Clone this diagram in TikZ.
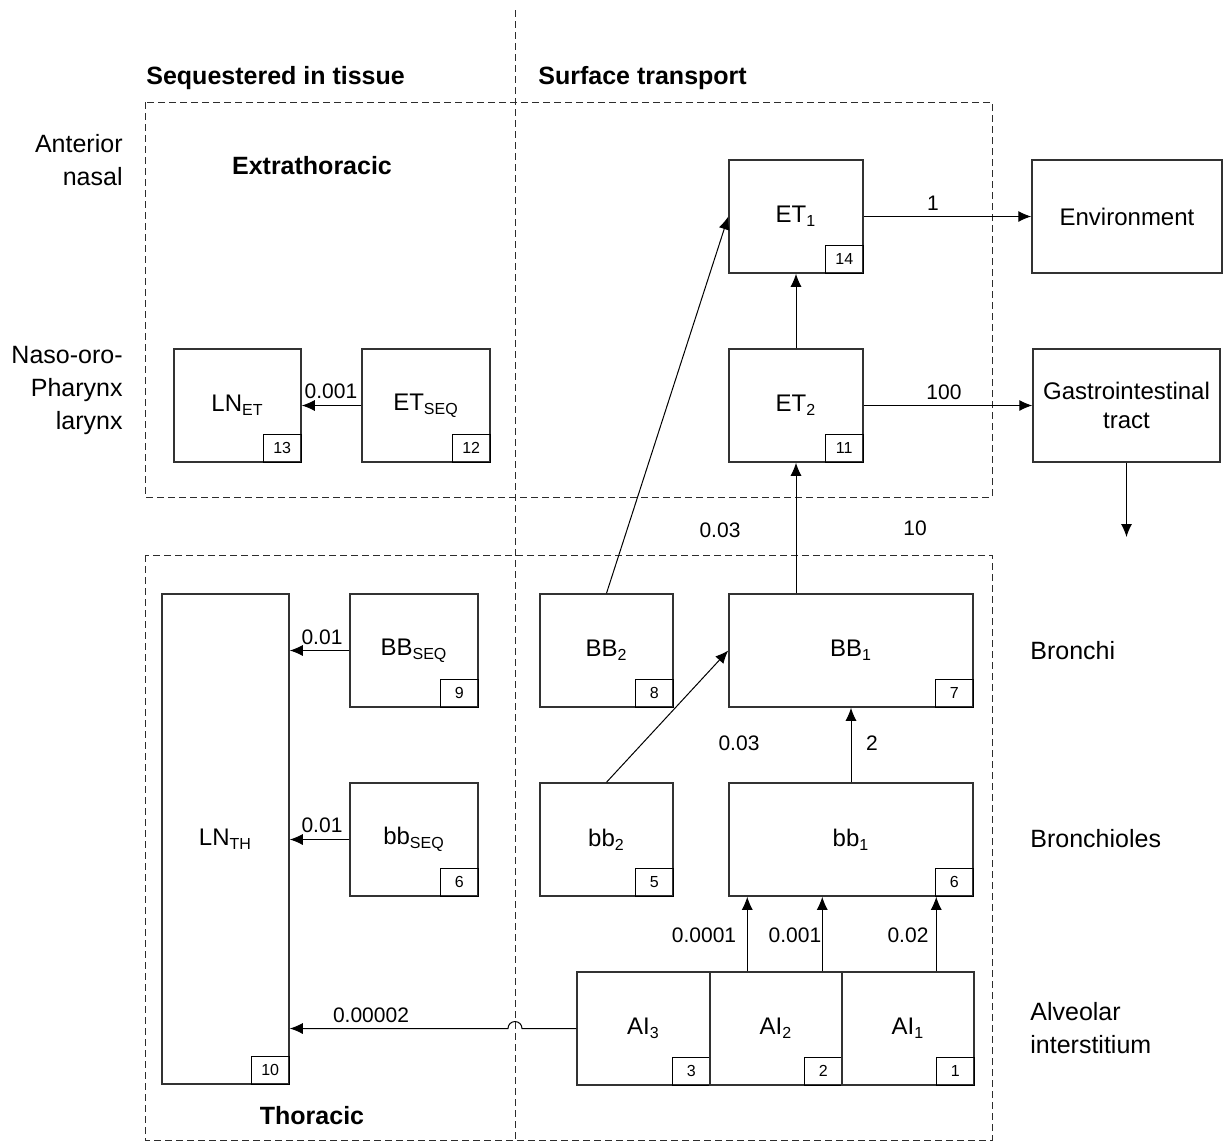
\documentclass[tikz,border=0pt]{standalone}
\usepackage{fontspec}
\setmainfont{Liberation Sans}
\usetikzlibrary{arrows.meta,calc}

\definecolor{boxgray}{RGB}{50,50,50}
\definecolor{dashgray}{RGB}{45,45,45}

\tikzset{
  comp/.style={draw=boxgray, line width=0.75pt, minimum width=67pt, minimum height=56.5pt,
    inner sep=0pt, align=center, font=\fontsize{12}{14.5}\selectfont},
  numbox/.style={draw=black, line width=0.5pt, minimum width=19pt, minimum height=14pt,
    inner sep=0pt, anchor=south east, font=\fontsize{8}{9}\selectfont},
  rate/.style={inner sep=0pt, font=\fontsize{10.5}{12}\selectfont},
  flow/.style={-{Latex[length=6.5pt,width=5.5pt]}, line width=0.5pt},
  region/.style={draw=dashgray, line width=0.5pt, dash pattern=on 3.5pt off 2pt},
  head/.style={inner sep=0pt, font=\bfseries\fontsize{12.5}{15}\selectfont},
  side/.style={inner sep=0pt, font=\fontsize{12.5}{16.5}\selectfont},
}

\begin{document}
\begin{tikzpicture}[x=0.5pt,y=-0.5pt]
\useasboundingbox (0,0) rectangle (1223,1142);

% regions
\draw[region] (145,102) rectangle (992,497);
\draw[region] (145,555) rectangle (992,1140);
\draw[region] (515,10) -- (515,1142);

\node[head, anchor=west] (seq) at (146,78) {Sequestered in tissue};
\node[head, anchor=west] (surf) at (538,78) {Surface transport};
\node[head] (extra) at (312,166) {Extrathoracic};
\node[head] (thor) at (312,1116) {Thoracic};

% side labels
\node[side, align=right, anchor=east] (antnas) at (123,160) {Anterior\\nasal};
\node[side, align=right, anchor=east] (naso) at (123,390) {Naso-oro-\\Pharynx\\larynx};
\node[side, anchor=west] (bronchi) at (1030,651) {Bronchi};
\node[side, anchor=west] (bronchioles) at (1030,839) {Bronchioles};
\node[side, align=left, anchor=west] (alv) at (1030,1028) {Alveolar\\interstitium};

% extrathoracic compartments
\node[comp] (ET1) at (796,216.5) {ET\textsubscript{1}};
\node[numbox] (n14) at (ET1.south east) {14};
\node[comp] (ET2) at (796,405.5) {ET\textsubscript{2}};
\node[numbox] (n11) at (ET2.south east) {11};
\node[comp, minimum width=64pt] (ETseq) at (426,405.5) {ET\textsubscript{SEQ}};
\node[numbox] (n12) at (ETseq.south east) {12};
\node[comp, minimum width=63.5pt] (LNet) at (237.5,405.5) {LN\textsubscript{ET}};
\node[numbox] (n13) at (LNet.south east) {13};
\node[comp, minimum width=95pt] (env) at (1127,216.5) {Environment};
\node[comp, minimum width=93.5pt] (GI) at (1126.5,405.5) {Gastrointestinal\\tract};

% thoracic compartments
\node[comp, minimum width=63.5pt, minimum height=245pt] (LNth) at (225.5,839) {LN\textsubscript{TH}};
\node[numbox] (n10) at (LNth.south east) {10};
\node[comp, minimum width=64pt] (BBseq) at (414,650.5) {BB\textsubscript{SEQ}};
\node[numbox] (n9) at (BBseq.south east) {9};
\node[comp, minimum width=64pt] (bbseq) at (414,839.5) {bb\textsubscript{SEQ}};
\node[numbox] (n6s) at (bbseq.south east) {6};
\node[comp, minimum width=66.5pt] (BB2) at (606.5,650.5) {BB\textsubscript{2}};
\node[numbox] (n8) at (BB2.south east) {8};
\node[comp, minimum width=122pt] (BB1) at (851,650.5) {BB\textsubscript{1}};
\node[numbox] (n7) at (BB1.south east) {7};
\node[comp, minimum width=66.5pt] (bb2) at (606.5,839.5) {bb\textsubscript{2}};
\node[numbox] (n5) at (bb2.south east) {5};
\node[comp, minimum width=122pt] (bb1) at (851,839.5) {bb\textsubscript{1}};
\node[numbox] (n6) at (bb1.south east) {6};
\node[comp, minimum width=66.5pt] (AI3) at (643.5,1028.5) {AI\textsubscript{3}};
\node[numbox] (n3) at (AI3.south east) {3};
\node[comp, minimum width=66pt] (AI2) at (776,1028.5) {AI\textsubscript{2}};
\node[numbox] (n2) at (AI2.south east) {2};
\node[comp, minimum width=66pt] (AI1) at (908,1028.5) {AI\textsubscript{1}};
\node[numbox] (n1) at (AI1.south east) {1};

% transfers
\coordinate (gut) at (1126.5,537);
\coordinate (hop) at (522,1028.5);
\coordinate (a3) at ($(AI2.north west)+(38,0)$);
\coordinate (a2) at ($(AI2.north west)+(113,0)$);
\coordinate (a1) at ($(AI1.north west)+(95,0)$);
\draw[flow] (ET1.east) -- (env.west);
\draw[flow] (ET2.east) -- (GI.west);
\draw[flow] (GI.south) -- (gut);
\draw[flow] (ET2.north) -- (ET1.south);
\draw[flow] (BB1.north -| ET2.south) -- (ET2.south);
\draw[flow] (BB2.north) -- (ET1.west);
\draw[flow] (bb2.north) -- (BB1.west);
\draw[flow] (bb1.north) -- (BB1.south);
\draw[flow] (a3) -- (a3 |- bb1.south);
\draw[flow] (a2) -- (a2 |- bb1.south);
\draw[flow] (a1) -- (a1 |- bb1.south);
\draw[flow] (ETseq.west) -- (LNet.east);
\draw[flow] (BBseq.west) -- (LNth.east |- BBseq.west);
\draw[flow] (bbseq.west) -- (LNth.east |- bbseq.west);
\draw[flow] (AI3.west) -- (hop) arc[start angle=0, end angle=180, radius=3.5pt]
  -- (LNth.east |- AI3.west);

% rates
\node[rate] (r1) at (933,203) {1};
\node[rate] (r100) at (944,392) {100};
\node[rate] (r001) at (331,391) {0.001};
\node[rate] (r01a) at (322,637) {0.01};
\node[rate] (r01b) at (322,825) {0.01};
\node[rate] (r00002) at (371,1015) {0.00002};
\node[rate] (r03a) at (720,530) {0.03};
\node[rate] (r10) at (915,528) {10};
\node[rate] (r03b) at (739,743) {0.03};
\node[rate] (r2) at (872,743) {2};
\node[rate] (rai3) at (704,935) {0.0001};
\node[rate] (rai2) at (795,935) {0.001};
\node[rate] (rai1) at (908,935) {0.02};
\end{tikzpicture}
\end{document}
